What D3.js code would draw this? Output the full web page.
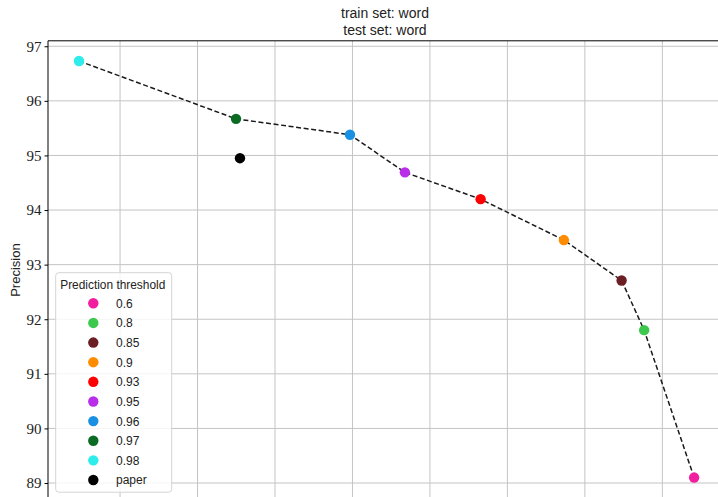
<!DOCTYPE html>
<html>
<head>
<meta charset="utf-8">
<script src="https://cdn.jsdelivr.net/npm/d3@7"></script>
<style>
  html, body { margin: 0; padding: 0; background: #fff; }
  svg { display: block; }
</style>
</head>
<body>
<svg id="chart" width="718" height="497"></svg>
<script>
// Precision vs. recall for each prediction threshold, plus the paper's result
const thresholds = ["0.6", "0.8", "0.85", "0.9", "0.93", "0.95", "0.96", "0.97", "0.98", "paper"];
const recall     = [87.41, 86.765, 86.474, 85.729, 84.654, 83.677, 82.968, 81.497, 79.47, 81.548];
const precision  = [89.10, 91.80, 92.71, 93.45, 94.20, 94.69, 95.38, 95.67, 96.73, 94.95];
const colors     = ["#f21ea0", "#3cc84c", "#6b1f22", "#ff8c00", "#ff0000", "#b92ee8", "#1a90e4", "#0c6b22", "#2cecec", "#000000"];
const curveOrder = ["0.98", "0.97", "0.96", "0.95", "0.93", "0.9", "0.85", "0.8", "0.6"];
const yTicks     = [89, 90, 91, 92, 93, 94, 95, 96, 97];
const xTicks     = [80, 81, 82, 83, 84, 85, 86, 87];

const svg = d3.select("#chart");
const plot = { left: 48, top: 40.8, right: 722, bottom: 499.4 };

const x = d3.scaleLinear().domain([79.07, 87.77]).range([plot.left, plot.right]);
const y = d3.scaleLinear().domain([88.7, 97.1]).range([plot.bottom, plot.top]);

const points = thresholds.map((t, i) => ({ t, r: recall[i], p: precision[i], c: colors[i] }));
const byName = new Map(points.map(d => [d.t, d]));

// grid
const grid = svg.append("g");
grid.selectAll("line.v").data(xTicks).join("line")
  .attr("x1", d => x(d)).attr("x2", d => x(d))
  .attr("y1", plot.top).attr("y2", plot.bottom)
  .attr("stroke", "#c4c4c4").attr("stroke-width", 1);
grid.selectAll("line.h").data(yTicks).join("line")
  .attr("x1", plot.left).attr("x2", plot.right)
  .attr("y1", d => y(d)).attr("y2", d => y(d))
  .attr("stroke", "#c4c4c4").attr("stroke-width", 1);

// dashed curve through the thresholds
const line = d3.line().x(d => x(d.r)).y(d => y(d.p));
svg.append("path")
  .datum(curveOrder.map(t => byName.get(t)))
  .attr("d", line)
  .attr("fill", "none")
  .attr("stroke", "#1a1a1a")
  .attr("stroke-width", 1.5)
  .attr("stroke-dasharray", "5,2.6");

// markers
svg.append("g").selectAll("circle").data(points).join("circle")
  .attr("cx", d => x(d.r)).attr("cy", d => y(d.p))
  .attr("r", 5.2).attr("fill", d => d.c);

// spines
svg.append("line").attr("x1", plot.left).attr("x2", plot.left)
  .attr("y1", plot.top).attr("y2", plot.bottom).attr("stroke", "#000").attr("stroke-width", 1);
svg.append("line").attr("x1", plot.left).attr("x2", plot.right)
  .attr("y1", plot.top).attr("y2", plot.top).attr("stroke", "#000").attr("stroke-width", 1);

// y axis
const yAxis = d3.axisLeft(y).tickValues(yTicks).tickSize(3.5).tickPadding(3).tickFormat(d3.format("d"));
const yg = svg.append("g").attr("transform", `translate(${plot.left},0)`).call(yAxis);
yg.select(".domain").remove();
yg.selectAll("text").attr("font-family", "'Liberation Serif', 'DejaVu Serif', serif")
  .attr("font-size", 15).attr("fill", "#222");
yg.selectAll("line").attr("stroke", "#000");

// axis label
svg.append("text")
  .attr("transform", `translate(20,${(plot.top + plot.bottom) / 2}) rotate(-90)`)
  .attr("text-anchor", "middle")
  .attr("font-family", "'Liberation Sans', Arial, sans-serif")
  .attr("font-size", 13).attr("fill", "#222")
  .text("Precision");

// title
const title = svg.append("text").attr("text-anchor", "middle")
  .attr("font-family", "'Liberation Sans', Arial, sans-serif")
  .attr("font-size", 14).attr("fill", "#222");
title.append("tspan").attr("x", (plot.left + plot.right) / 2).attr("y", 18).text("train set: word");
title.append("tspan").attr("x", (plot.left + plot.right) / 2).attr("y", 35).text("test set: word");

// legend
const lg = svg.append("g").attr("transform", "translate(55.7,272.7)");
lg.append("rect").attr("width", 116).attr("height", 219.5).attr("rx", 3)
  .attr("fill", "#fff").attr("fill-opacity", 0.82)
  .attr("stroke", "#d4d4d4").attr("stroke-width", 1);
lg.append("text").attr("x", 4.5).attr("y", 16)
  .attr("font-family", "'Liberation Sans', Arial, sans-serif")
  .attr("font-size", 11.9).attr("fill", "#222")
  .text("Prediction threshold");
const items = lg.selectAll("g.item").data(points).join("g")
  .attr("transform", (d, i) => `translate(0,${30.6 + i * 19.63})`);
items.append("circle").attr("cx", 37.6).attr("cy", 0).attr("r", 5.2).attr("fill", d => d.c);
items.append("text").attr("x", 60.3).attr("y", 4.5)
  .attr("font-family", "'Liberation Sans', Arial, sans-serif")
  .attr("font-size", 12).attr("fill", "#222")
  .text(d => d.t);
</script>
</body>
</html>
